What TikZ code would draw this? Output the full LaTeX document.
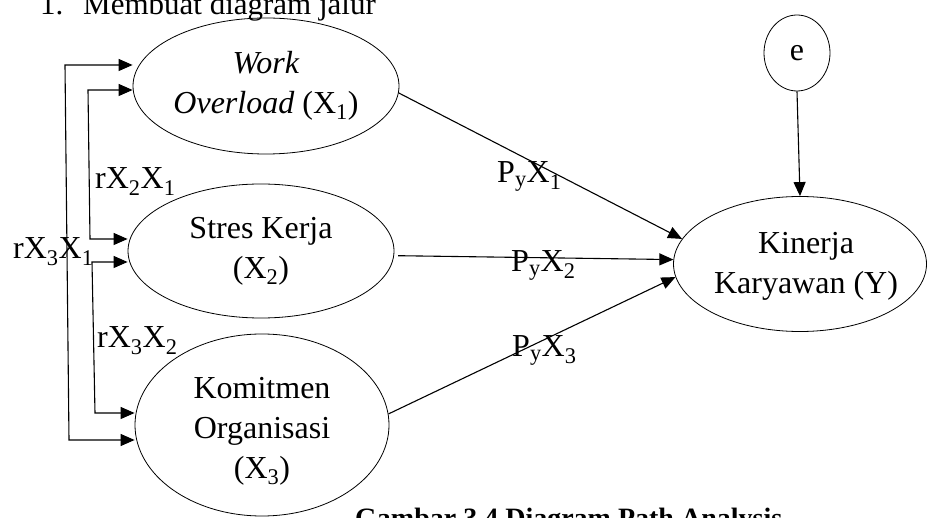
\documentclass[tikz,border=0pt]{standalone}
\usepackage{fontspec}
\setmainfont{Liberation Serif}
\usetikzlibrary{shapes.geometric,arrows.meta,calc}
\begin{document}
\begin{tikzpicture}[x=1pt,y=-1pt,
  lbl/.style={font=\fontsize{32}{40}\selectfont, inner sep=0pt},
  var/.style={draw, ellipse, line width=0.8pt, inner sep=0pt, align=center,
              font=\fontsize{32}{40}\selectfont},
  txt/.style={inner sep=0pt, align=center, font=\fontsize{32}{40}\selectfont},
  arr/.style={line width=1.1pt, -{Triangle[length=14pt,width=12pt]}},
  dbl/.style={line width=1.1pt,
              {Triangle[length=14pt,width=12pt]}-{Triangle[length=14pt,width=12pt]}},
]
\useasboundingbox (0,0) rectangle (927,518);
\clip (0,0) rectangle (927,518);

% heading and caption
\node[anchor=base west, inner sep=0pt, font=\fontsize{31}{38}\selectfont] (num) at (40,15) {1.};
\node[anchor=base west, inner sep=0pt, font=\fontsize{31}{38}\selectfont] (head) at (83,15) {Membuat diagram jalur};
\node[anchor=base west, inner sep=0pt, font=\bfseries\fontsize{28}{34}\selectfont] (cap) at (355,527) {Gambar 3.4 Diagram Path Analysis};

% variables
\node[var, minimum width=266pt, minimum height=136pt] (X1) at (266,86)
  {\textit{Work}\\\textit{Overload} (X\textsubscript{1})};
\node[var, minimum width=266pt, minimum height=134pt] (X2) at (261,251)
  {Stres Kerja\\(X\textsubscript{2})};
\node[var, minimum width=254pt, minimum height=182pt] (X3) at (262,425) {};
\node[txt] (X3t) at (262,431) {Komitmen\\Organisasi\\(X\textsubscript{3})};
\node[var, minimum width=253pt, minimum height=135pt] (Y) at (800,264) {};
\node[txt] (Yt) at (806,266) {Kinerja\\Karyawan (Y)};
\node[var, minimum width=66pt, minimum height=76pt] (e) at (797,53) {e};

% paths to Y
\draw[arr] (X1.-3) -- (Y.168);
\draw[arr, shorten <=4pt] (X2.-2) -- (Y.178);
\draw[arr] (X3.5) -- (Y.-174);
\draw[arr] (e.south) -- (Y.north);

\node[lbl, anchor=base west] (p1) at (497,183) {P\textsubscript{y}X\textsubscript{1}};
\node[lbl, anchor=base west] (p2) at (511,272) {P\textsubscript{y}X\textsubscript{2}};
\node[lbl, anchor=base west] (p3) at (512,357) {P\textsubscript{y}X\textsubscript{3}};

% correlations between the exogenous variables
\coordinate (a1) at (65,65);  \coordinate (a2) at (69,440);
\draw[dbl] (X1.west |- a1) -- (a1) -- (a2) -- (X3.west |- a2);
\coordinate (b1) at (88,90);  \coordinate (b2) at (90,239);
\draw[dbl] (X1.west |- b1) -- (b1) -- (b2) -- (X2.west |- b2);
\coordinate (c1) at (92,262); \coordinate (c2) at (95,413);
\draw[dbl] (X2.west |- c1) -- (c1) -- (c2) -- (X3.west |- c2);

\node[lbl, anchor=base west] (r21) at (95,189) {rX\textsubscript{2}X\textsubscript{1}};
\node[lbl, anchor=base west] (r31) at (13,259) {rX\textsubscript{3}X\textsubscript{1}};
\node[lbl, anchor=base west] (r32) at (97,348) {rX\textsubscript{3}X\textsubscript{2}};
\end{tikzpicture}
\end{document}
